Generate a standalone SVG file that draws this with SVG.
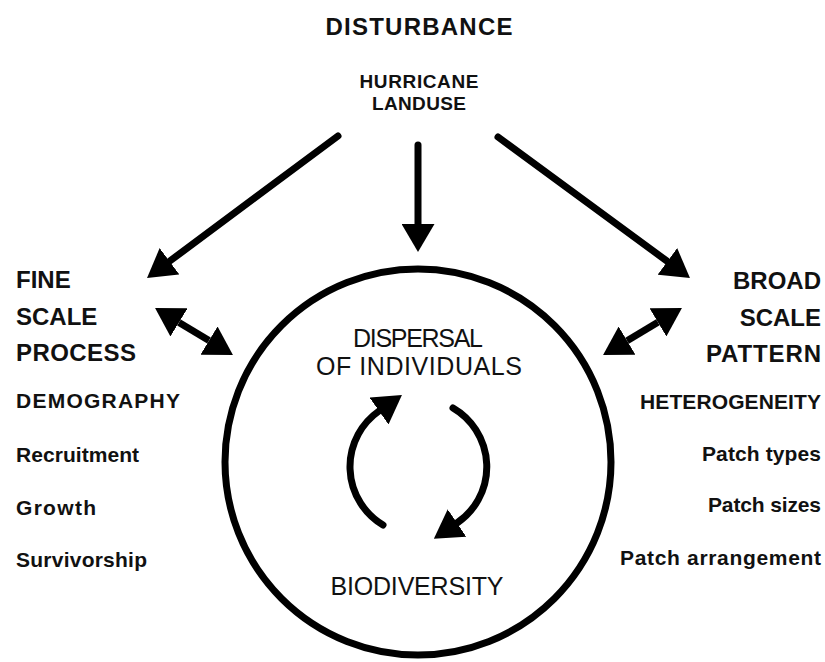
<svg xmlns="http://www.w3.org/2000/svg" width="825" height="662" viewBox="0 0 825 662">
<style>
.t{font-family:"Liberation Sans",Arial,sans-serif;fill:#111;}
.b{font-weight:bold;}
.h1{font-size:24px;}
.h2{font-size:19px;}
.h3{font-size:21px;}
.c{font-size:25px;}
.ln{fill:none;stroke:#000;stroke-width:7;stroke-linecap:round;}
</style>
<defs>
<marker id="ah" viewBox="0 0 28 33" markerWidth="28" markerHeight="33" refX="0" refY="16.5" markerUnits="userSpaceOnUse" orient="auto-start-reverse">
<path d="M0,0 L28,16.5 L0,33 Z" fill="#000"/>
</marker>
</defs>
<rect width="825" height="662" fill="#fff"/>

<g id="disturbance">
<text class="t b h1" x="419" y="35" text-anchor="middle" textLength="187">DISTURBANCE</text>
<text class="t b h2" x="419" y="88" text-anchor="middle" textLength="119">HURRICANE</text>
<text class="t b h2" x="419" y="110" text-anchor="middle" textLength="94">LANDUSE</text>
</g>

<g id="fine-scale">
<text class="t b h1" x="16" y="288">FINE</text>
<text class="t b h1" x="16" y="325">SCALE</text>
<text class="t b h1" x="16" y="361" textLength="120">PROCESS</text>
<text class="t b h3" x="16" y="408" textLength="164">DEMOGRAPHY</text>
<text class="t b h3" x="16" y="462" textLength="123">Recruitment</text>
<text class="t b h3" x="16" y="515" textLength="80">Growth</text>
<text class="t b h3" x="16" y="567" textLength="131">Survivorship</text>
</g>

<g id="broad-scale">
<text class="t b h1" x="821" y="289" text-anchor="end">BROAD</text>
<text class="t b h1" x="821" y="326" text-anchor="end">SCALE</text>
<text class="t b h1" x="821" y="362" text-anchor="end" textLength="115">PATTERN</text>
<text class="t b h3" x="821" y="409" text-anchor="end" textLength="181">HETEROGENEITY</text>
<text class="t b h3" x="821" y="461" text-anchor="end" textLength="119">Patch types</text>
<text class="t b h3" x="821" y="512" text-anchor="end" textLength="113">Patch sizes</text>
<text class="t b h3" x="821" y="565" text-anchor="end" textLength="201">Patch arrangement</text>
</g>

<g id="biodiversity">
<circle cx="418" cy="462" r="193" fill="none" stroke="#000" stroke-width="7"/>
<text class="t c" x="418" y="347" text-anchor="middle" textLength="130">DISPERSAL</text>
<text class="t c" x="419" y="375" text-anchor="middle" textLength="206">OF INDIVIDUALS</text>
<text class="t c" x="417" y="595" text-anchor="middle" textLength="173">BIODIVERSITY</text>
<path class="ln" d="M383,525 A68,68 0 0 1 379,411" marker-end="url(#ah)"/>
<path class="ln" d="M453,408 A68,68 0 0 1 457,523" marker-end="url(#ah)"/>
</g>

<g id="connectors">
<path class="ln" d="M338,136 L169.5,261.3" marker-end="url(#ah)"/>
<path class="ln" d="M418,145 L418,224" marker-end="url(#ah)"/>
<path class="ln" d="M498,137 L667.4,261.4" marker-end="url(#ah)"/>
<path class="ln" style="stroke-linecap:butt" d="M179,322.4 L209,340.6" marker-start="url(#ah)" marker-end="url(#ah)"/>
<path class="ln" style="stroke-linecap:butt" d="M627.1,340.7 L657.9,322.3" marker-start="url(#ah)" marker-end="url(#ah)"/>
</g>
</svg>
